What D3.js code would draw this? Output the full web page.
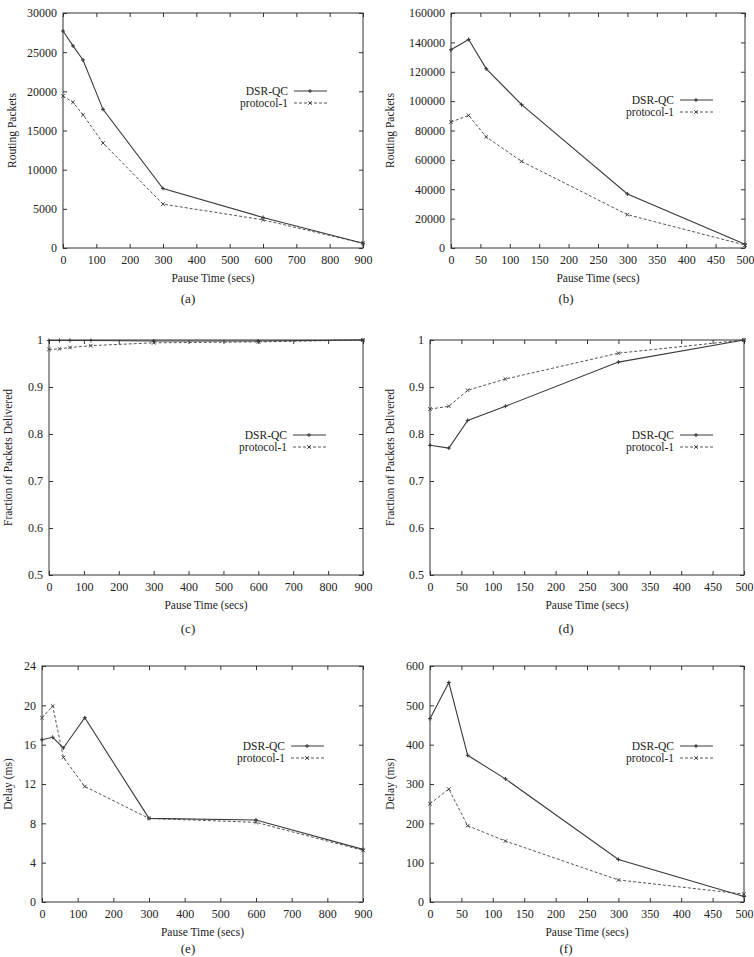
<!DOCTYPE html>
<meta charset="utf-8">
<script src="https://d3js.org/d3.v7.min.js"></script>
<style>
body{margin:0;background:#fff;}
svg text{font-family:"Liberation Serif","Times New Roman","DejaVu Serif",serif !important;fill:#222;}
.tick line{stroke:#333;}
.domain{display:none;}
</style>
<body>
<div id="chart"></div>
<script>
// pause times (x values)
var pauseLong = [0, 30, 60, 120, 300, 600, 900];
var pauseShort = [0, 30, 60, 120, 300, 500];

// (a) routing packets, 900s runs
var routingDsrA = [27700, 25800, 24000, 17700, 7600, 3900, 600];
var routingP1A = [19400, 18600, 17000, 13400, 5600, 3600, 600];
// (b) routing packets, 500s runs
var routingDsrB = [135000, 142000, 122000, 97600, 36800, 2500];
var routingP1B = [85800, 90300, 75600, 59000, 22700, 2000];
// (c) fraction delivered, 900s
var deliveredDsrC = [0.999, 0.999, 0.999, 0.999, 0.998, 0.998, 1.0];
var deliveredP1C = [0.980, 0.981, 0.984, 0.988, 0.994, 0.996, 1.0];
// (d) fraction delivered, 500s
var deliveredDsrD = [0.776, 0.770, 0.829, 0.859, 0.953, 1.0];
var deliveredP1D = [0.853, 0.859, 0.893, 0.917, 0.972, 1.0];
// (e) delay, 900s
var delayDsrE = [16.5, 16.75, 15.66, 18.74, 8.5, 8.34, 5.35];
var delayP1E = [18.74, 19.93, 14.7, 11.75, 8.5, 8.1, 5.25];
// (f) delay, 500s
var delayDsrF = [466, 558, 373, 313, 108, 14];
var delayP1F = [250, 287, 194, 155, 56, 20];

// tick labels
var xTicksLong = [0, 100, 200, 300, 400, 500, 600, 700, 800, 900];
var xTicksShort = [0, 50, 100, 150, 200, 250, 300, 350, 400, 450, 500];
var yTicksA = [0, 5000, 10000, 15000, 20000, 25000, 30000];
var yTicksB = [0, 20000, 40000, 60000, 80000, 100000, 120000, 140000, 160000];
var yTicksFrac = [0.5, 0.6, 0.7, 0.8, 0.9, 1];
var yTicksE = [0, 4, 8, 12, 16, 20, 24];
var yTicksF = [0, 100, 200, 300, 400, 500, 600];

var seriesNames = ["DSR-QC", "protocol-1"];
var serif = '"Liberation Serif","Times New Roman",serif';

var svg = d3.select("#chart").append("svg")
    .attr("width", 754)
    .attr("height", 957)
    .attr("font-family", serif);

function panel(o) {
  var x = d3.scaleLinear().domain(o.xdom).range([o.x0, o.x1]);
  var y = d3.scaleLinear().domain(o.ydom).range([o.y1, o.y0]);
  var g = svg.append("g");

  g.append("g").attr("transform", "translate(0," + o.y1 + ")")
    .call(d3.axisBottom(x).tickValues(o.xt).tickSize(-4).tickPadding(7).tickFormat(d3.format("d")))
    .attr("font-family", serif).attr("font-size", 12);
  g.append("g").attr("transform", "translate(0," + o.y0 + ")")
    .call(d3.axisTop(x).tickValues(o.xt).tickSize(-4).tickFormat(""));
  g.append("g").attr("transform", "translate(" + o.x0 + ",0)")
    .call(d3.axisLeft(y).tickValues(o.yt).tickSize(-4).tickPadding(6).tickFormat(o.yfmt || d3.format("d")))
    .attr("font-family", serif).attr("font-size", 12);
  g.append("g").attr("transform", "translate(" + o.x1 + ",0)")
    .call(d3.axisRight(y).tickValues(o.yt).tickSize(-4).tickFormat(""));

  g.append("rect")
    .attr("x", o.x0).attr("y", o.y0)
    .attr("width", o.x1 - o.x0).attr("height", o.y1 - o.y0)
    .attr("fill", "none").attr("stroke", "#333").attr("stroke-width", 1);

  var line = d3.line().x(function(d){ return x(d[0]); }).y(function(d){ return y(d[1]); });
  var s1 = o.xs.map(function(v, i){ return [v, o.s1[i]]; });
  var s2 = o.xs.map(function(v, i){ return [v, o.s2[i]]; });

  g.append("path").datum(s2).attr("d", line)
    .attr("fill", "none").attr("stroke", "#555").attr("stroke-width", 1).attr("stroke-dasharray", "3,2");
  g.append("path").datum(s1).attr("d", line)
    .attr("fill", "none").attr("stroke", "#3a3a3a").attr("stroke-width", 1.1);

  s1.forEach(function(d){ plus(g, x(d[0]), y(d[1])); });
  s2.forEach(function(d){ cross(g, x(d[0]), y(d[1])); });

  // legend
  var lx = o.x0 + o.lx, ly = o.y0 + o.ly;
  seriesNames.forEach(function(name, i){
    var yy = ly + i * 12;
    g.append("text").attr("x", lx).attr("y", yy).attr("dy", "0.35em")
      .attr("text-anchor", "end").style("font-size", "11.5px").text(name);
    g.append("line").attr("x1", lx + 6).attr("x2", lx + 39).attr("y1", yy).attr("y2", yy)
      .attr("stroke", i ? "#555" : "#3a3a3a").attr("stroke-width", 1)
      .attr("stroke-dasharray", i ? "3,2" : null);
    if (i) cross(g, lx + 22, yy); else plus(g, lx + 22, yy);
  });

  g.append("text").attr("x", (o.x0 + o.x1) / 2).attr("y", o.y1 + 34)
    .attr("text-anchor", "middle").style("font-size", "11.5px").text("Pause Time (secs)");
  g.append("text").attr("transform", "translate(" + o.ylx + "," + (o.y0 + o.y1) / 2 + ") rotate(-90)")
    .attr("dy", "0.35em").attr("text-anchor", "middle").style("font-size", "11.5px").text(o.ylabel);
  g.append("text").attr("x", o.capx).attr("y", o.capy).attr("dy", "0.35em")
    .attr("text-anchor", "middle").style("font-size", "13px").text(o.cap);
}

function plus(g, cx, cy) {
  g.append("path").attr("d", "M" + (cx - 2) + "," + cy + "h4M" + cx + "," + (cy - 2) + "v4")
    .attr("stroke", "#333").attr("stroke-width", 1).attr("fill", "none");
}
function cross(g, cx, cy) {
  g.append("path").attr("d", "M" + (cx - 1.8) + "," + (cy - 1.8) + "l3.6,3.6M" + (cx - 1.8) + "," + (cy + 1.8) + "l3.6,-3.6")
    .attr("stroke", "#444").attr("stroke-width", 1).attr("fill", "none");
}

var fracFmt = function(d){ return d === 1 ? "1" : d3.format(".1f")(d); };

panel({x0: 63, x1: 363, y0: 13, y1: 248, xdom: [0, 900], ydom: [0, 30000], xt: xTicksLong, yt: yTicksA,
  xs: pauseLong, s1: routingDsrA, s2: routingP1A, lx: 225, ly: 78, ylx: 12, ylabel: "Routing Packets",
  cap: "(a)", capx: 188, capy: 298});
panel({x0: 451, x1: 745, y0: 13, y1: 248, xdom: [0, 500], ydom: [0, 160000], xt: xTicksShort, yt: yTicksB,
  xs: pauseShort, s1: routingDsrB, s2: routingP1B, lx: 223, ly: 87, ylx: 390, ylabel: "Routing Packets",
  cap: "(b)", capx: 566, capy: 298});
panel({x0: 49, x1: 363, y0: 340, y1: 575, xdom: [0, 900], ydom: [0.5, 1], xt: xTicksLong, yt: yTicksFrac, yfmt: fracFmt,
  xs: pauseLong, s1: deliveredDsrC, s2: deliveredP1C, lx: 238, ly: 95, ylx: 8, ylabel: "Fraction of Packets Delivered",
  cap: "(c)", capx: 188, capy: 628});
panel({x0: 430, x1: 744, y0: 340, y1: 575, xdom: [0, 500], ydom: [0.5, 1], xt: xTicksShort, yt: yTicksFrac, yfmt: fracFmt,
  xs: pauseShort, s1: deliveredDsrD, s2: deliveredP1D, lx: 244, ly: 95, ylx: 390, ylabel: "Fraction of Packets Delivered",
  cap: "(d)", capx: 566, capy: 628});
panel({x0: 42, x1: 363, y0: 666, y1: 902, xdom: [0, 900], ydom: [0, 24], xt: xTicksLong, yt: yTicksE,
  xs: pauseLong, s1: delayDsrE, s2: delayP1E, lx: 243, ly: 80, ylx: 8, ylabel: "Delay (ms)",
  cap: "(e)", capx: 188, capy: 948});
panel({x0: 430, x1: 744, y0: 666, y1: 902, xdom: [0, 500], ydom: [0, 600], xt: xTicksShort, yt: yTicksF,
  xs: pauseShort, s1: delayDsrF, s2: delayP1F, lx: 244, ly: 80, ylx: 390, ylabel: "Delay (ms)",
  cap: "(f)", capx: 566, capy: 948});
</script>
</body>
</html>
